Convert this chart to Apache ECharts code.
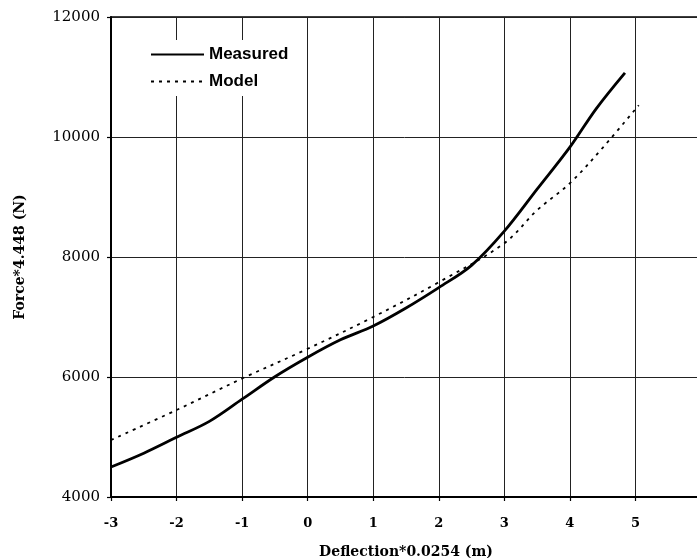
<!DOCTYPE html>
<html>
<head>
<meta charset="utf-8">
<script src="https://cdn.jsdelivr.net/npm/echarts@6/dist/echarts.min.js"></script>
<style>
html,body{margin:0;padding:0;background:#fff;}
#chart{width:697px;height:558px;}
</style>
</head>
<body>
<div id="chart"></div>
<script>
const measuredX = [-3, -2.5, -2, -1.5, -1, -0.5, 0, 0.5, 1, 1.5, 2, 2.5, 3, 3.5, 4, 4.4, 4.84];
const measuredY = [4500, 4730, 4995, 5260, 5630, 6005, 6330, 6620, 6850, 7150, 7490, 7860, 8430, 9130, 9830, 10470, 11070];
const modelX = [-3, -2, -1, 0, 1, 2, 3, 3.5, 4, 4.5, 5.05];
const modelY = [4950, 5450, 5975, 6470, 7000, 7580, 8230, 8780, 9230, 9820, 10530];
const xTicks = [-3, -2, -1, 0, 1, 2, 3, 4, 5];
const yTicks = [4000, 6000, 8000, 10000, 12000];

const chart = echarts.init(document.getElementById('chart'), null, {renderer: 'canvas'});
const pair = (xs, ys) => xs.map((x, i) => [x, ys[i]]);

chart.setOption({
  animation: false,
  backgroundColor: '#fff',
  grid: {left: 111, top: 17, width: 590, height: 480, outerBoundsMode: 'none', containLabel: false,
    show: true, borderColor: '#000', borderWidth: 1.5, backgroundColor: 'transparent'},
  legend: {
    orient: 'vertical', left: 145, top: 40, padding: [6, 8, 6, 5],
    backgroundColor: '#fff', itemWidth: 53, itemHeight: 14, itemGap: 10,
    itemStyle: {opacity: 0},
    textStyle: {fontFamily: 'Liberation Sans', fontWeight: 'bold', fontSize: 17, color: '#000'},
    data: ['Measured', 'Model']
  },
  xAxis: {
    type: 'value', min: -3, max: 6, interval: 1,
    name: 'Deflection*0.0254 (m)', nameLocation: 'middle', nameGap: 48,
    nameTextStyle: {fontFamily: 'DejaVu Serif', fontWeight: 'bold', fontSize: 14, color: '#000'},
    axisLine: {show: true, onZero: false, lineStyle: {color: '#000', width: 2}},
    axisTick: {show: true, length: 4, lineStyle: {color: '#000', width: 1.2}},
    axisLabel: {margin: 20, fontFamily: 'DejaVu Serif', fontWeight: 'bold', fontSize: 13, color: '#000',
      formatter: v => xTicks.includes(v) ? String(v) : ''},
    splitLine: {show: true, lineStyle: {color: '#222', width: 1}}
  },
  yAxis: {
    type: 'value', min: 4000, max: 12000, interval: 2000,
    name: 'Force*4.448 (N)', nameLocation: 'middle', nameGap: 84,
    nameTextStyle: {fontFamily: 'DejaVu Serif', fontWeight: 'bold', fontSize: 14, color: '#000'},
    axisLine: {show: true, onZero: false, lineStyle: {color: '#000', width: 2}},
    axisTick: {show: true, length: 4, lineStyle: {color: '#000', width: 1.2}},
    axisLabel: {margin: 11, fontFamily: 'DejaVu Serif', fontSize: 15, color: '#000',
      formatter: v => yTicks.includes(v) ? String(v) : ''},
    splitLine: {show: true, lineStyle: {color: '#222', width: 1}}
  },
  series: [
    {name: 'Measured', type: 'line', data: pair(measuredX, measuredY), smooth: 0.35,
      symbol: 'none', lineStyle: {color: '#000', width: 2.8}, itemStyle: {color: '#000'}, z: 3},
    {name: 'Model', type: 'line', data: pair(modelX, modelY), smooth: 0.35,
      symbol: 'none', lineStyle: {color: '#000', width: 1.8, type: [3, 5]}, itemStyle: {color: '#000'}, z: 3}
  ]
});
</script>
</body>
</html>
